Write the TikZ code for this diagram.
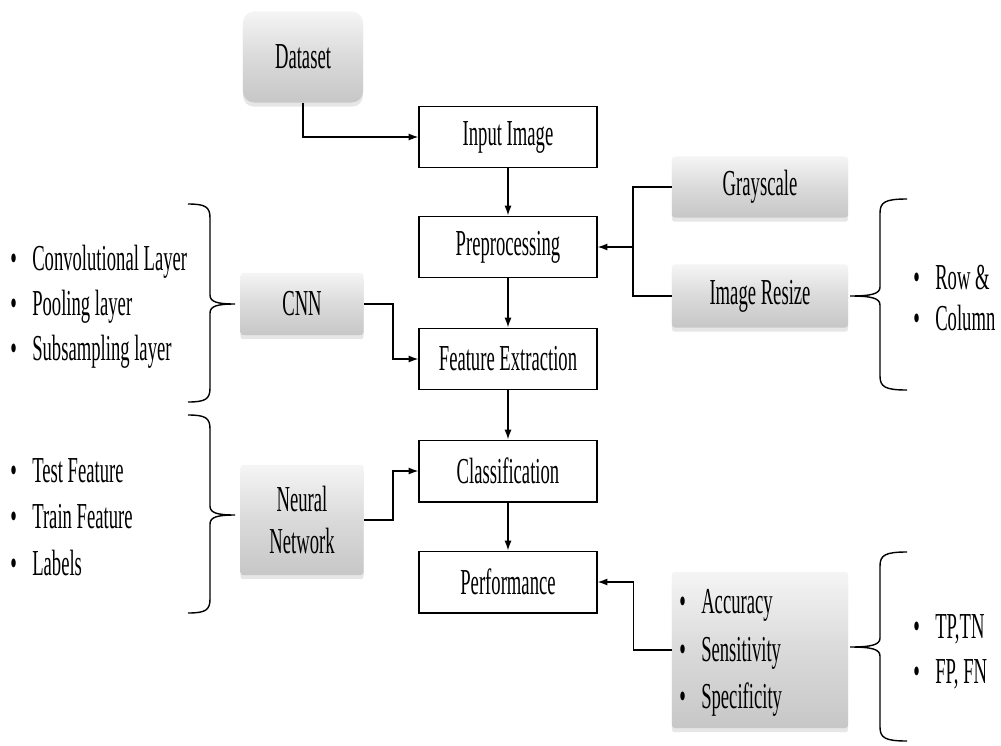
\documentclass[tikz,border=0pt]{standalone}
\usepackage{fontspec}
\setmainfont[FakeStretch=0.51]{Liberation Serif}
\usetikzlibrary{arrows.meta,shadows}

% brace: x, top y, tip y, bottom y, body offset, tip offset
\newcommand{\listbrace}[6]{%
  \draw[wire] (#1,#2) .. controls ({#1+0.8*#5},#2) and ({#1+#5},{#2+3}) .. ({#1+#5},{#2+14})
    -- ({#1+#5},{#3-9}) .. controls ({#1+#5},{#3-2}) and ({#1+#5+0.3*(#6-#5)},#3) .. ({#1+#6},#3)
    .. controls ({#1+#5+0.3*(#6-#5)},#3) and ({#1+#5},{#3+2}) .. ({#1+#5},{#3+9})
    -- ({#1+#5},{#4-14}) .. controls ({#1+#5},{#4-3}) and ({#1+0.8*#5},#4) .. (#1,#4);}

\begin{document}
\begin{tikzpicture}[x=0.025cm,y=-0.025cm]
\tikzset{every node/.style={font=\fontsize{26}{32}\selectfont, inner sep=0pt},
  stepbox/.style={draw, line width=1.4pt, minimum width=4.425cm, minimum height=1.525cm},
  greybox/.style={top color=gray!8, bottom color=gray!44, middle color=gray!29,
    rounded corners=2pt, drop shadow={opacity=0.2, shadow xshift=0pt, shadow yshift=-3pt}},
  arr/.style={-{Latex[length=7pt,width=5pt]}, line width=1pt},
  wire/.style={line width=1pt}}
\useasboundingbox (0,0) rectangle (1001,745);

% main chain
\node[greybox, rounded corners=8pt, minimum width=3cm, minimum height=2.275cm] (data) at (303,57) {Dataset};
\node[stepbox] (inp) at (508,137) {Input Image};
\node[stepbox] (pre) at (508,247) {Preprocessing};
\node[stepbox] (feat) at (508,359) {Feature Extraction};
\node[stepbox] (cls) at (508,471) {Classification};
\node[stepbox] (perf) at (508,582) {Performance};

% right side
\node[greybox, minimum width=4.4cm, minimum height=1.525cm] (gray) at (760,187) {Grayscale};
\node[greybox, minimum width=4.4cm, minimum height=1.575cm] (resize) at (760,296) {Image Resize};
\node[greybox, minimum width=4.4cm, minimum height=3.9cm] (met) at (760,650) {};
\node[anchor=west, align=left, font=\fontsize{26}{34}\selectfont] (metlist) at (679,653)
  {\textbullet\hspace{11pt}Accuracy\\\textbullet\hspace{11pt}Sensitivity\\\textbullet\hspace{11pt}Specificity};
\node[anchor=west, align=left, font=\fontsize{26}{28.5}\selectfont] (rclist) at (913,298)
  {\textbullet\hspace{11pt}Row \&\\\textbullet\hspace{11pt}Column};
\node[anchor=west, align=left] (tflist) at (913,652)
  {\textbullet\hspace{11pt}TP,TN\\\textbullet\hspace{11pt}FP, FN};

% left side
\node[greybox, minimum width=3.075cm, minimum height=1.55cm] (cnn) at (302,304) {CNN};
\node[greybox, minimum width=3.075cm, minimum height=2.75cm, align=center,
  font=\fontsize{26}{30.5}\selectfont] (nn) at (302,520) {Neural\\Network};
\node[anchor=west, align=left] (cnnlist) at (10,307)
  {\textbullet\hspace{11pt}Convolutional Layer\\\textbullet\hspace{11pt}Pooling layer\\\textbullet\hspace{11pt}Subsampling layer};
\node[anchor=west, align=left, font=\fontsize{26}{33}\selectfont] (nnlist) at (10,517)
  {\textbullet\hspace{11pt}Test Feature\\\textbullet\hspace{11pt}Train Feature\\\textbullet\hspace{11pt}Labels};

% braces
\listbrace{188}{204}{304}{402}{22}{47}
\listbrace{188}{415}{515}{613}{22}{47}
\listbrace{907}{199}{296}{390}{-27}{-57}
\listbrace{907}{552}{647}{741}{-27}{-57}

% connectors
\coordinate (jn) at (633,247);
\draw[arr] (data.south) |- (inp.west);
\draw[arr] (inp.south) -- (pre.north);
\draw[arr] (pre.south) -- (feat.north);
\draw[arr] (feat.south) -- (cls.north);
\draw[arr] (cls.south) -- (perf.north);
\draw[wire] (gray.west) -| (jn) |- (resize.west);
\draw[arr] (jn) -- (pre.east);
\draw[arr] (cnn.east) -- ++(29,0) |- (feat.west);
\draw[arr] (nn.east) -- ++(29,0) |- (cls.west);
\draw[arr] (met.west) -- ++(-38,0) |- (perf.east);
\end{tikzpicture}
\end{document}
